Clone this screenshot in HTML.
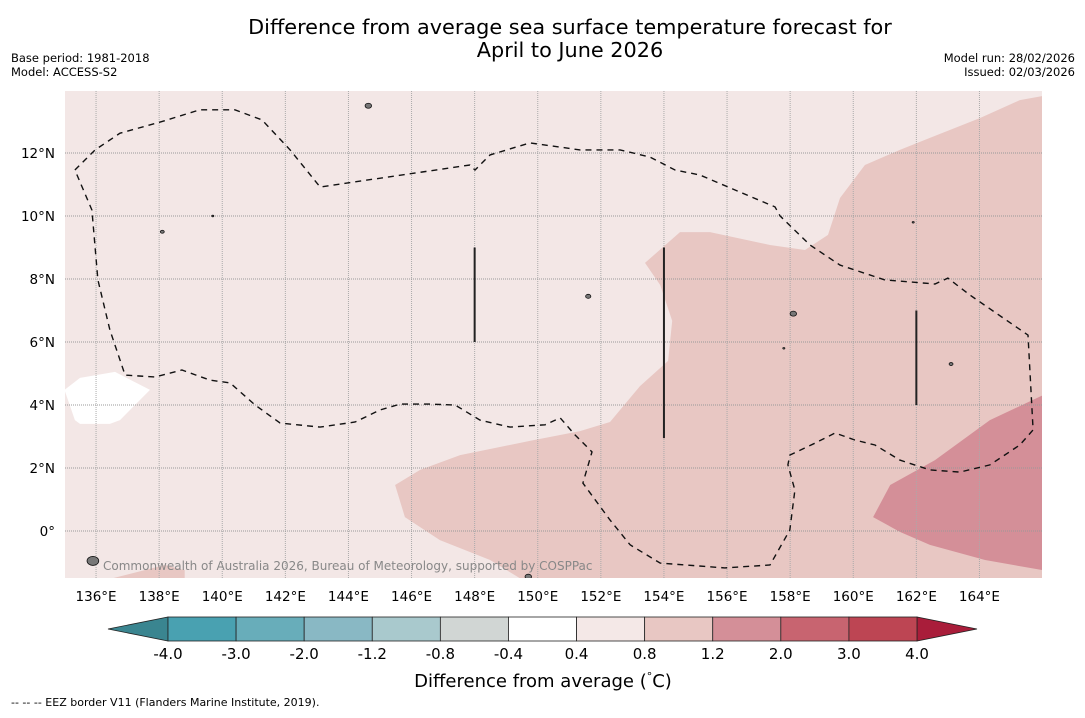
<!DOCTYPE html>
<html><head><meta charset="utf-8">
<style>
body{margin:0;background:#fff;font-family:"Liberation Sans","DejaVu Sans",sans-serif;}
svg text{font-family:"DejaVu Sans","Liberation Sans",sans-serif;}
</style></head>
<body>
<svg id="chart" width="1085" height="713" viewBox="0 0 1085 713" xmlns="http://www.w3.org/2000/svg">
<text x="570" y="34" font-size="20.8" text-anchor="middle">Difference from average sea surface temperature forecast for</text>
<text x="570" y="57" font-size="20.8" text-anchor="middle">April to June 2026</text>
<text x="11" y="62" font-size="11.5">Base period: 1981-2018</text>
<text x="11" y="76" font-size="11.5">Model: ACCESS-S2</text>
<text x="1075" y="62" font-size="11.5" text-anchor="end">Model run: 28/02/2026</text>
<text x="1075" y="76" font-size="11.5" text-anchor="end">Issued: 02/03/2026</text>
<defs><clipPath id="mapclip"><rect x="65" y="91" width="977" height="487"/></clipPath></defs>
<g id="map" clip-path="url(#mapclip)"></g>
<g id="axes"></g>
<g id="cbar"></g>
<text x="543" y="687" font-size="18" text-anchor="middle">Difference from average (<tspan font-size="11" dy="-7">°</tspan><tspan dy="7">C)</tspan></text>
<text x="11" y="706" font-size="11">--  --  -- EEZ border V11 (Flanders Marine Institute, 2019).</text>
</svg>
<script>
const lonTicks=[136,138,140,142,144,146,148,150,152,154,156,158,160,162,164];
const latTicks=[0,2,4,6,8,10,12];
const latLabels=["0°","2°N","4°N","6°N","8°N","10°N","12°N"];
const cbarBounds=[-4.0,-3.0,-2.0,-1.2,-0.8,-0.4,0.4,0.8,1.2,2.0,3.0,4.0];
const cbarLabels=["-4.0","-3.0","-2.0","-1.2","-0.8","-0.4","0.4","0.8","1.2","2.0","3.0","4.0"];
const cbarColors=["#49a1b1","#68adba","#89b8c4","#a9c9cd","#d1d6d4","#ffffff","#f4e8e7","#e8c7c3","#d48f98","#c86470","#bd4553"];
const warmLon=[145.48,145.79,146.90,148.49,149.60,166.5,166.5,165.28,164.02,162.43,161.48,160.37,159.58,159.20,158.47,157.36,155.46,154.51,153.40,153.88,154.26,154.13,153.24,152.29,151.34,149.75,147.54,146.27];
const warmLat=[1.46,0.44,-0.29,-0.92,-1.6,-1.6,13.9,13.68,13.11,12.48,12.10,11.62,10.57,9.40,8.92,9.08,9.49,9.49,8.51,7.81,6.67,5.40,4.60,3.46,3.17,2.86,2.41,1.94];
const hotLon=[160.63,161.17,162.59,164.33,166.5,166.5,164.18,162.43,161.48];
const hotLat=[0.44,1.46,2.25,3.52,4.54,-1.33,-0.92,-0.44,-0.03];
const coolLon=[135.0,135.49,136.60,137.71,136.76,136.44,135.49,135.33];
const coolLat=[4.48,4.86,5.05,4.48,3.52,3.40,3.40,3.52];
const swLon=[136.13,138.18,138.81,138.81];
const swLat=[-1.6,-1.08,-1.24,-1.6];
const eezLon=[135.33,135.97,136.76,138.03,139.29,140.40,141.26,142.15,143.10,147.85,148.01,148.49,149.75,151.34,152.61,153.56,154.35,155.14,156.41,157.52,157.68,158.63,159.58,161.00,162.59,163.00,163.70,165.54,165.70,165.28,164.33,163.38,162.43,161.48,160.69,160.05,159.42,158.79,157.99,157.93,158.15,157.99,157.36,155.93,153.88,152.93,152.29,151.43,151.72,151.18,150.71,150.23,149.12,148.17,147.38,146.59,145.64,145.00,144.21,143.10,141.83,141.04,140.25,139.61,138.72,137.87,136.92,136.44,136.06,135.87,135.33];
const eezLat=[11.46,12.10,12.63,12.98,13.37,13.37,13.05,12.10,10.92,11.62,11.46,11.94,12.32,12.10,12.10,11.87,11.46,11.30,10.76,10.29,10.00,9.08,8.44,7.97,7.84,8.03,7.49,6.22,3.21,2.73,2.10,1.87,1.94,2.25,2.73,2.89,3.11,2.79,2.41,2.10,1.30,0.03,-1.08,-1.17,-1.02,-0.44,0.35,1.52,2.51,3.05,3.59,3.37,3.30,3.52,4.00,4.03,4.03,3.84,3.46,3.30,3.43,4.00,4.70,4.79,5.11,4.89,4.95,6.38,7.97,10.19,11.46];
const segLon=[148,154,162];
const segLat0=[9.0,9.0,7.0];
const segLat1=[6.0,2.95,4.0];
const islandLon=[144.63,138.1,151.6,158.1,163.1,135.9,149.7,139.7,157.8,161.9];
const islandLat=[13.5,9.5,7.45,6.9,5.3,-0.95,-1.45,10.0,5.8,9.8];
const islandR=[2.5,1.5,2,2.5,1.5,4.5,2.5,0.8,0.8,0.8];

const NS='http://www.w3.org/2000/svg';
const X=lon=>64.5+(lon-135)*31.55;
const Y=lat=>531-lat*31.5;
function mk(tag,attrs,parent){const e=document.createElementNS(NS,tag);for(const k in attrs)e.setAttribute(k,attrs[k]);parent.appendChild(e);return e;}
const map=document.getElementById('map'), axes=document.getElementById('axes'), cbar=document.getElementById('cbar');
const pts=(lo,la)=>lo.map((v,i)=>X(v).toFixed(1)+','+Y(la[i]).toFixed(1)).join(' ');

let bg=mk('rect',{x:65,y:91,width:977,height:487,fill:'#f3e7e6'},map);


let p=mk('polygon',{points:pts(warmLon,warmLat),fill:'#e8c7c3'},map);


p=mk('polygon',{points:pts(swLon,swLat),fill:'#e8c7c3'},map);


p=mk('polygon',{points:pts(hotLon,hotLat),fill:'#d48f98'},map);


p=mk('polygon',{points:pts(coolLon,coolLat),fill:'#ffffff'},map);



lonTicks.forEach(l=>{
  const g=mk('line',{x1:X(l),x2:X(l),y1:91,y2:578,stroke:'#aaa','stroke-width':1,'stroke-dasharray':'1,1'},map);
  
  
  const t=mk('text',{x:X(l),y:601,'font-size':13.5,'text-anchor':'middle'},axes);
  t.textContent=l+'°E';
  
  
});
latTicks.forEach((l,i)=>{
  const g=mk('line',{x1:65,x2:1042,y1:Y(l),y2:Y(l),stroke:'#999','stroke-width':1,'stroke-dasharray':'1,1'},map);
  
  
  const t=mk('text',{x:55,y:Y(l)+5,'font-size':13.5,'text-anchor':'end'},axes);
  t.textContent=latLabels[i];
  
  
});
let eez=mk('polyline',{points:pts(eezLon,eezLat),fill:'none',stroke:'#111','stroke-width':1.4,'stroke-dasharray':'6,5'},map);


segLon.forEach((l,i)=>{
  const s=mk('line',{x1:X(l),x2:X(l),y1:Y(segLat0[i]),y2:Y(segLat1[i]),stroke:'#222','stroke-width':2},map);
  
  
});
islandLon.forEach((l,i)=>{
  const c=mk('ellipse',{cx:X(l),cy:Y(islandLat[i]),rx:islandR[i]*1.3,ry:islandR[i],fill:'#777',stroke:'#111','stroke-width':0.8},map);
  
  
});
let cr=mk('text',{x:103,y:570,'font-size':12,fill:'#888'},map);
cr.textContent='Commonwealth of Australia 2026, Bureau of Meteorology, supported by COSPPac';



const cx0=168,cx1=917,cy=617,ch=24;
const n=cbarColors.length, w=(cx1-cx0)/n;
let tl=mk('polygon',{points:`${cx0},${cy} ${cx0},${cy+ch} 108,${cy+ch/2}`,fill:'#3a8590',stroke:'#222','stroke-width':0.8},cbar);


let tr=mk('polygon',{points:`${cx1},${cy} ${cx1},${cy+ch} 977,${cy+ch/2}`,fill:'#a91d3a',stroke:'#222','stroke-width':0.8},cbar);


cbarColors.forEach((c,i)=>{
  const r=mk('rect',{x:cx0+i*w,y:cy,width:w,height:ch,fill:c,stroke:'#222','stroke-width':0.8},cbar);
  
  
});
cbarBounds.forEach((b,i)=>{
  const t=mk('text',{x:cx0+i*w,y:659,'font-size':15,'text-anchor':'middle'},cbar);
  t.textContent=cbarLabels[i];
  
  
});
</script>
</body></html>
